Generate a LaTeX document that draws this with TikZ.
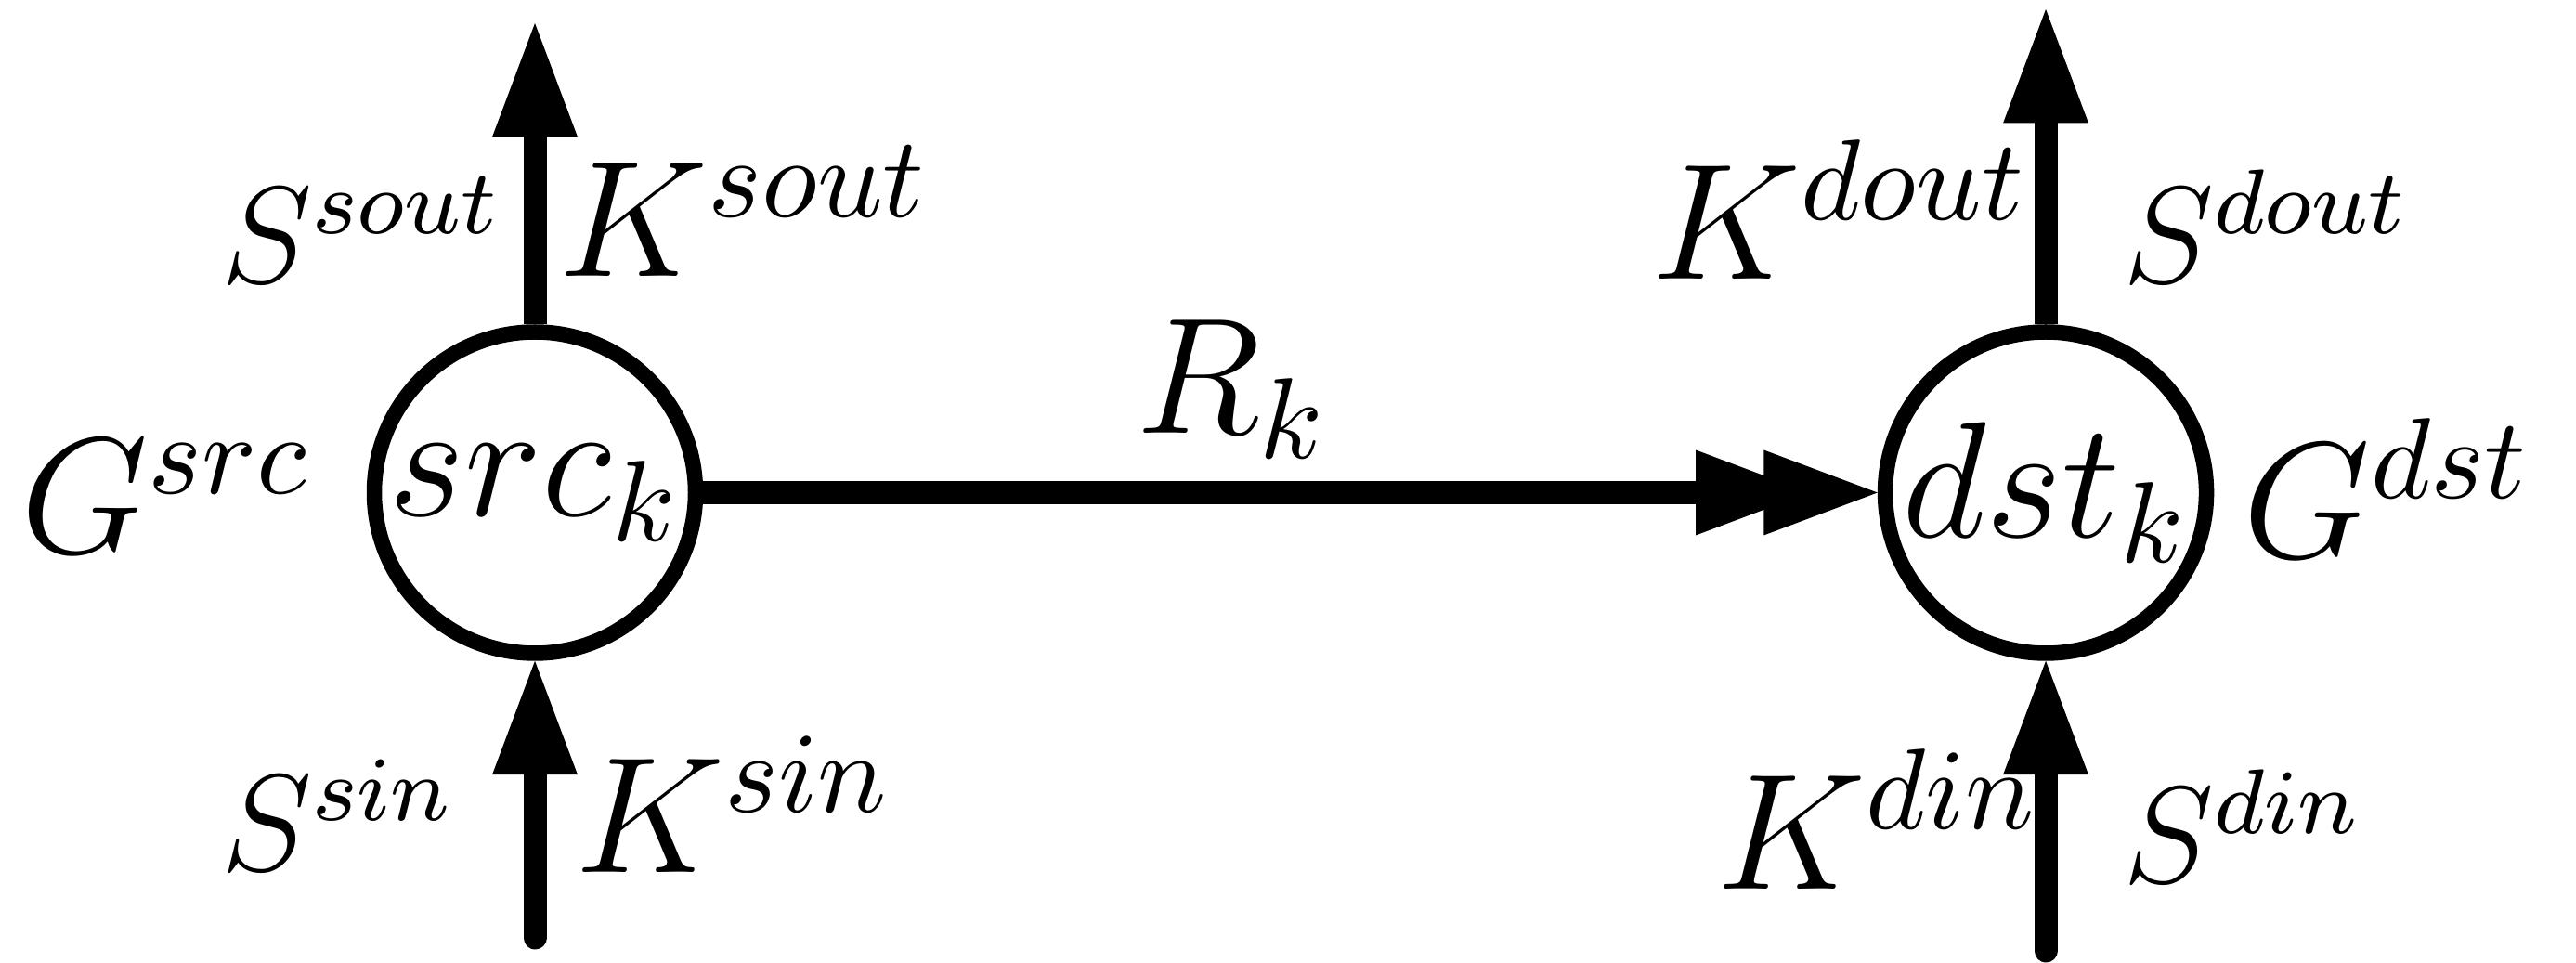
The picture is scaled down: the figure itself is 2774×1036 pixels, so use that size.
\documentclass[tikz,border=0pt]{standalone}
\usetikzlibrary{arrows.meta}
\begin{document}
\begin{tikzpicture}[
  x=0.0809pt, y=0.0809pt,
  every node/.style={font=\fontsize{14.4}{17}\selectfont},
  vertex/.style={
    circle, draw, line width=1.335pt,
    minimum size=27.99pt, inner sep=0pt
  },
  flow/.style={
    line width=2.02pt,
    -{Triangle[length=9.91pt, width=7.44pt, line width=0pt]}
  },
  flowtwice/.style={
    line width=2.02pt,
    -{Triangle[length=9.91pt, width=7.44pt, line width=0pt, sep=-3.98pt]
      Triangle[length=9.91pt, width=7.44pt, line width=0pt, sep=0pt]}
  },
  lbl/.style={inner sep=0pt, anchor=base west},
  slbl/.style={lbl, font=\fontsize{12}{14}\selectfont},
]
\useasboundingbox (0,0) rectangle (2774,1036);

% === ENDPOINTS ===
\node[vertex] (src) at (576,505.5) {$src_k$};
\node[vertex] (dst) at (2203,505.5) {$dst_k$};

% free ends of the in/out arrows
\coordinate (srcout) at (576,1011);
\coordinate (srcin) at (576,26);
\coordinate (dstout) at (2203,1026);
\coordinate (dstin) at (2203,12);

% === CONNECTORS ===
\draw[flow] (src.north) -- (srcout);
\draw[flow, line cap=round] (srcin) -- (src.south);
\draw[flow] (dst.north) -- (dstout);
\draw[flow, line cap=round] (dstin) -- (dst.south);
\draw[flowtwice] (src.east) -- (dst.west);

% === LABELS ===
\node[lbl] (gsrc) at (20,440) {$G^{src}$};
\node[slbl] (ssout) at (236,731) {$S^{sout}$};
\node[lbl] (ksout) at (599,738) {$K^{sout}$};
\node[slbl] (ssin) at (236,99) {$S^{sin}$};
\node[lbl] (ksin) at (617,97) {$K^{sin}$};
\node[lbl] (rk) at (1221,569) {$R_k$};
\node[lbl] (kdout) at (1776,735) {$K^{dout}$};
\node[slbl] (sdout) at (2284,731) {$S^{dout}$};
\node[lbl] (gdst) at (2413,435) {$G^{dst}$};
\node[lbl] (kdin) at (1846,79) {$K^{din}$};
\node[slbl] (sdin) at (2284,85) {$S^{din}$};

\end{tikzpicture}
\end{document}
